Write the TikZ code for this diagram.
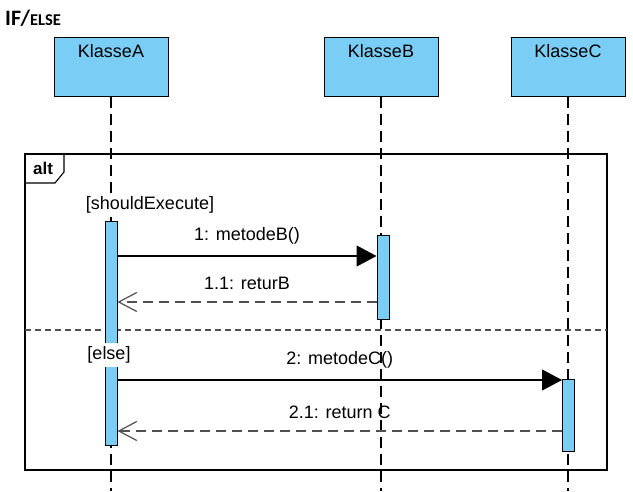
\documentclass[tikz,border=0pt]{standalone}
\usepackage{fontspec}
\setmainfont{Liberation Sans}
\newfontfamily\tittelfont{Carlito}
\usetikzlibrary{arrows.meta}
\definecolor{klasseblaa}{RGB}{122,206,245}
\definecolor{returgraa}{RGB}{80,80,80}

\begin{document}
\begin{tikzpicture}[x=1pt,y=-1pt,
    font=\fontsize{18}{20}\selectfont,
    klasse/.style={draw,fill=klasseblaa,line width=1pt,minimum width=114pt,minimum height=59pt},
    aktiv/.style={draw,fill=klasseblaa,line width=1pt,minimum width=12pt,inner sep=0pt},
    livslinje/.style={line width=1.1pt,dash pattern=on 11pt off 6pt},
    kall/.style={line width=1.1pt,-{Triangle[length=20pt,width=21pt]}},
    retur/.style={returgraa,line width=1.2pt,dash pattern=on 10pt off 6pt,-{Straight Barb[length=18pt,width=19pt]}},
    vakt/.style={fill=white,inner sep=4pt}]
    \useasboundingbox (0,0) rectangle (633,491);
    \node[anchor=base west,inner sep=0pt] (tittel) at (5,25)
        {\tittelfont\bfseries\fontsize{22}{24}\selectfont IF/\fontsize{16.5}{18}\selectfont ELSE};
    \node[klasse,label={[anchor=north,inner sep=0pt,yshift=-8pt]north:KlasseA}] (klasseA) at (111,66.5) {};
    \node[klasse,label={[anchor=north,inner sep=0pt,yshift=-8pt]north:KlasseB}] (klasseB) at (381,66.5) {};
    \node[klasse,label={[anchor=north,inner sep=0pt,yshift=-8pt]north:KlasseC}] (klasseC) at (568,66.5) {};
    \coordinate (bunn) at (0,491);
    \draw[livslinje] (klasseA.south) -- (klasseA |- bunn);
    \draw[livslinje] (klasseB.south) -- (klasseB |- bunn);
    \draw[livslinje] (klasseC.south) -- (klasseC |- bunn);
    \draw[line width=1.1pt] (25,154) rectangle (607,470);
    \draw[line width=1.1pt] (25,154) -- (64,154) -- (64,172) -- (55,183) -- (25,183);
    \node[font=\fontsize{17}{20}\selectfont\bfseries] (alt) at (43,168) {alt};
    \coordinate (skilleV) at (25,330);
    \coordinate (skilleH) at (607,330);
    \draw[returgraa,line width=1.3pt,dash pattern=on 6pt off 4pt] (skilleV) -- (skilleH);
    \node[vakt] (vakt1) at (150,205) {[shouldExecute]};
    \node[aktiv,minimum height=224pt] (aktivA) at (111,333) {};
    \node[aktiv,minimum height=84pt] (aktivB) at (383,277) {};
    \node[aktiv,minimum height=72pt] (aktivC) at (568.5,415) {};
    \node[vakt] (vakt2) at (109,355) {[else]};
    \coordinate (m1) at (aktivA.east |- 0,256);
    \coordinate (r1) at (aktivB.west |- 0,302);
    \coordinate (m2) at (aktivA.east |- 0,380);
    \coordinate (r2) at (aktivC.west |- 0,431);
    \draw[kall] (m1) -- (aktivB.west |- m1) node[midway,above=8pt] {1: metodeB()};
    \draw[retur] (r1) -- (aktivA.east |- r1) node[midway,above=8pt,text=black] {1.1: returB};
    \draw[kall] (m2) -- (aktivC.west |- m2) node[midway,above=8pt] {2: metodeC()};
    \draw[retur] (r2) -- (aktivA.east |- r2) node[midway,above=8pt,text=black] {2.1: return C};
\end{tikzpicture}
\end{document}
